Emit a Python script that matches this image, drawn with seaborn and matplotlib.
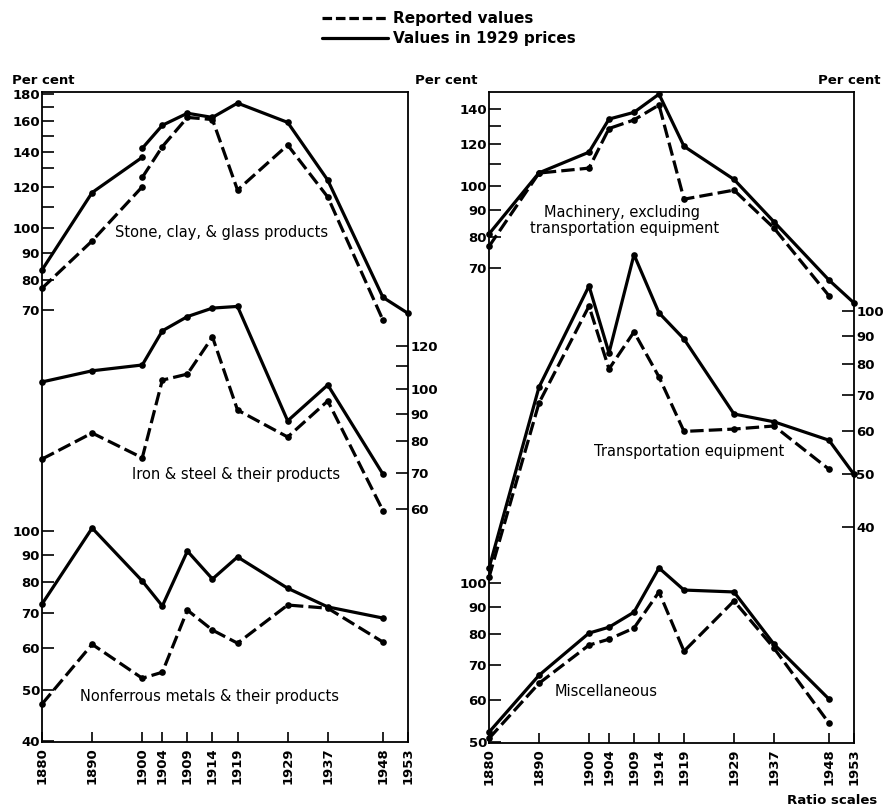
import matplotlib
matplotlib.use('Agg')
import matplotlib.pyplot as plt
import seaborn as sns
from matplotlib.ticker import NullFormatter
from matplotlib.lines import Line2D

# ---------------- data ----------------
year_ticks = [1880, 1890, 1900, 1904, 1909, 1914, 1919, 1929, 1937, 1948, 1953]
years_to_1900 = [1880, 1890, 1900]
years_from_1900 = [1900, 1904, 1909, 1914, 1919, 1929, 1937, 1948, 1953]
years_48 = [1880, 1890, 1900, 1904, 1909, 1914, 1919, 1929, 1937, 1948]
years_53 = [1880, 1890, 1900, 1904, 1909, 1914, 1919, 1929, 1937, 1948, 1953]

# Stone, clay & glass (break at 1900)
stone_real_a = [83.4, 117, 136.5]
stone_real_b = [142, 157, 165.5, 162.5, 173, 159, 123.5, 74, 69]
stone_rep_a = [77, 94.7, 120]
stone_rep_b = [125, 143, 162.5, 161, 118.3, 144, 114.7, 67]

iron_real = [103, 108, 110.7, 128, 136, 141, 142, 87.3, 101.7, 69.6]
iron_rep = [74.2, 82.9, 74.6, 103.8, 106.5, 124.7, 91.4, 81.5, 95, 59.6]

nonfer_real = [72.7, 101.3, 80.4, 72.1, 91.6, 81.1, 89.3, 77.9, 71.8, 68.4]
nonfer_rep = [47, 61, 52.6, 54, 70.8, 64.9, 61.3, 72.4, 71.4, 61.6]

mach_real = [81.2, 106, 116, 134, 138, 149.4, 119, 103, 85.6, 66.4, 60.1]
mach_rep = [76.9, 105.9, 108.2, 128.6, 133.5, 142.5, 94.5, 98.3, 83.3, 62]

trans_real = [33.6, 72.4, 111.2, 83.7, 127, 99.2, 88.8, 64.6, 62.5, 57.8, 50]
trans_rep = [32.3, 67.7, 102.1, 78.2, 91.5, 75.6, 60, 60.6, 61.4, 51.1]

misc_real = [52.2, 66.9, 80.4, 82.5, 88.1, 106.8, 97, 96.2, 76.6, 60.3]
misc_rep = [50.8, 64.6, 76.3, 78.3, 82.2, 96.2, 74.3, 92.5, 75.3, 54.3]

legend_labels = ["Reported values", "Values in 1929 prices"]

# ---------------- figure ----------------
sns.set_theme(style='white')
plt.rcParams['font.family'] = ['DejaVu Sans']
plt.rcParams['text.color'] = 'black'
plt.rcParams['axes.labelcolor'] = 'black'
plt.rcParams['xtick.color'] = 'black'
plt.rcParams['ytick.color'] = 'black'
plt.rcParams['axes.edgecolor'] = 'black'

W, H = 883, 808
fig = plt.figure(figsize=(W / 100, H / 100), dpi=100)


def rect(x0, y0, x1, y1):
    return [x0 / W, 1 - y1 / H, (x1 - x0) / W, (y1 - y0) / H]


LEFT = rect(42, 92, 408, 742)
RIGHT = rect(489, 92, 854, 743)

LW = 2.3
DASH = (0, (4.2, 1.6))


def main_axes(r, name):
    ax = fig.add_axes(r, label=name)
    ax.set_facecolor('none')
    ax.set_xlim(1880, 1953)
    ax.set_yticks([])
    for s in ax.spines.values():
        s.set_visible(True)
        s.set_color('black')
        s.set_linewidth(1.3)
    ax.set_xticks(year_ticks)
    ax.set_xticklabels([str(y) for y in year_ticks], rotation=90,
                       fontsize=9.5, fontweight='bold', color='black')
    ax.tick_params(axis='x', which='major', bottom=True, direction='in',
                   length=7, width=1.2, pad=4, colors='black')
    ax.grid(False)
    return ax


def overlay(r, name, ylim, side, major, minor):
    ax = fig.add_axes(r, label=name)
    ax.set_facecolor('none')
    ax.set_xlim(1880, 1953)
    ax.set_yscale('log')
    ax.set_ylim(*ylim)
    for s in ax.spines.values():
        s.set_visible(False)
    ax.xaxis.set_visible(False)
    ax.grid(False)
    ax.set_yticks(major)
    ax.set_yticklabels([str(v) for v in major], fontsize=9.5,
                       fontweight='bold', color='black')
    ax.set_yticks(minor, minor=True)
    ax.yaxis.set_minor_formatter(NullFormatter())
    if side == 'right':
        ax.yaxis.tick_right()
        ax.tick_params(axis='y', which='both', right=True, left=False)
    else:
        ax.tick_params(axis='y', which='both', left=True, right=False)
    ax.tick_params(axis='y', which='both', direction='in', length=8.5,
                   width=1.2, pad=1.5, colors='black')
    return ax


def draw(ax, xs, ys, dashed):
    sns.lineplot(x=xs, y=ys, ax=ax, color='black', linewidth=LW,
                 linestyle=DASH if dashed else '-', marker='o',
                 markersize=4.8, markeredgewidth=0, estimator=None,
                 sort=False, legend=False, clip_on=False)


axL = main_axes(LEFT, 'left')
axR = main_axes(RIGHT, 'right')

# Left panel groups
ax_stone = overlay(LEFT, 'stone', (10.59, 181.6), 'left',
                   [180, 160, 140, 120, 100, 90, 80, 70], [170, 150, 130, 110])
draw(ax_stone, years_to_1900, stone_real_a, False)
draw(ax_stone, years_from_1900, stone_real_b, False)
draw(ax_stone, years_to_1900, stone_rep_a, True)
draw(ax_stone, years_from_1900[:-1], stone_rep_b, True)

ax_iron = overlay(LEFT, 'iron', (22.28, 353.4), 'right',
                  [120, 100, 90, 80, 70, 60], [110])
draw(ax_iron, years_48, iron_real, False)
draw(ax_iron, years_48, iron_rep, True)

ax_nonf = overlay(LEFT, 'nonfer', (39.83, 678.9), 'left',
                  [100, 90, 80, 70, 60, 50, 40], [])
draw(ax_nonf, years_48, nonfer_real, False)
draw(ax_nonf, years_48, nonfer_rep, True)

# Right panel groups
ax_mach = overlay(RIGHT, 'mach', (8.82, 150.8), 'left',
                  [140, 120, 100, 90, 80, 70], [130, 110])
draw(ax_mach, years_53, mach_real, False)
draw(ax_mach, years_48, mach_rep, True)

ax_trans = overlay(RIGHT, 'trans', (16.0, 253.2), 'right',
                   [100, 90, 80, 70, 60, 50, 40], [])
draw(ax_trans, years_53, trans_real, False)
draw(ax_trans, years_48, trans_rep, True)

ax_misc = overlay(RIGHT, 'misc', (49.8, 850.4), 'left',
                  [100, 90, 80, 70, 60, 50], [])
draw(ax_misc, years_48, misc_real, False)
draw(ax_misc, years_48, misc_rep, True)


# ---------------- texts ----------------
def ftext(x, y, s, **kw):
    kw.setdefault('fontsize', 10)
    kw.setdefault('ha', 'center')
    kw.setdefault('va', 'center')
    kw.setdefault('color', 'black')
    fig.text(x / W, 1 - y / H, s, **kw)


ftext(12, 81, "Per cent", ha='left', fontsize=9.5, fontweight='bold')
ftext(415, 81, "Per cent", ha='left', fontsize=9.5, fontweight='bold')
ftext(880, 81, "Per cent", ha='right', fontsize=9.5, fontweight='bold')

ftext(222, 233, "Stone, clay, & glass products", fontsize=10.5)
ftext(236, 474, "Iron & steel & their products", fontsize=10.5)
ftext(209, 696, "Nonferrous metals & their products", fontsize=10.5)
ftext(622, 213, "Machinery, excluding", fontsize=10.5)
ftext(625, 228, "transportation equipment", fontsize=10.5)
ftext(689, 451, "Transportation equipment", fontsize=10.5)
ftext(606, 692, "Miscellaneous", fontsize=10.5)
ftext(877, 800, "Ratio scales", ha='right', fontsize=9.5, fontweight='bold')

handles = [Line2D([], [], color='black', lw=LW, linestyle=(0, (3.0, 1.2))),
           Line2D([], [], color='black', lw=LW, linestyle='-')]
leg = fig.legend(handles, legend_labels, loc='upper left',
                 bbox_to_anchor=(322 / W, 1 - 11 / H), frameon=False,
                 handlelength=4.3, handletextpad=0.35, borderpad=0,
                 borderaxespad=0, labelspacing=0.35,
                 prop={'weight': 'bold', 'size': 11})
for t in leg.get_texts():
    t.set_color('black')

fig.savefig('out.png', dpi=100)
